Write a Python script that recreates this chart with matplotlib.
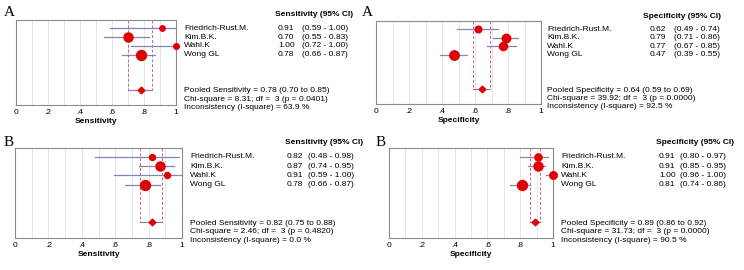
import matplotlib.pyplot as plt
from matplotlib import transforms

plt.rcParams['font.family'] = ['Liberation Sans', 'DejaVu Sans']

studies = ["Friedrich-Rust.M.", "Kim.B.K.", "Wahl.K", "Wong GL"]

# panel A, sensitivity
sens_a = [0.91, 0.70, 1.00, 0.78]
sens_a_lo = [0.59, 0.55, 0.72, 0.66]
sens_a_hi = [1.00, 0.83, 1.00, 0.87]
sens_a_w = [10, 30, 11, 35]
sens_a_pool = [0.78, 0.70, 0.85]
sens_a_stats = ["8.31", "0.0401", "63.9"]

# panel A, specificity
spec_a = [0.62, 0.79, 0.77, 0.47]
spec_a_lo = [0.49, 0.71, 0.67, 0.39]
spec_a_hi = [0.74, 0.86, 0.85, 0.55]
spec_a_w = [17, 27, 25, 32]
spec_a_pool = [0.64, 0.59, 0.69]
spec_a_stats = ["39.92", "0.0000", "92.5"]

# panel B, sensitivity
sens_b = [0.82, 0.87, 0.91, 0.78]
sens_b_lo = [0.48, 0.74, 0.59, 0.66]
sens_b_hi = [0.98, 0.95, 1.00, 0.87]
sens_b_w = [13, 30, 13, 35]
sens_b_pool = [0.82, 0.75, 0.88]
sens_b_stats = ["2.46", "0.4820", "0.0"]

# panel B, specificity
spec_b = [0.91, 0.91, 1.00, 0.81]
spec_b_lo = [0.80, 0.85, 0.96, 0.74]
spec_b_hi = [0.97, 0.95, 1.00, 0.86]
spec_b_w = [20, 30, 22, 35]
spec_b_pool = [0.89, 0.86, 0.92]
spec_b_stats = ["31.73", "0.0000", "90.5"]

tick_vals = [0, 0.2, 0.4, 0.6, 0.8, 1.0]
tick_labels = ["0", ".2", ".4", ".6", ".8", "1"]

W, H = 744, 270
FS = 6.0
RED = '#e00000'
CI_COL = '#8585b5'


def forest(fig, rect, est, lo, hi, w, pool, stats, measure, letter, letter_xy, xs):
    # rect and xs in pixels: (left, top, right, bottom); xs = name, value, ci, header
    l, t, r, b = rect
    ax = fig.add_axes([l / W, 1 - b / H, (r - l) / W, (b - t) / H])
    rows = list(range(1, len(est) + 1))
    pool_y = 8
    ax.set_xlim(0, 1)
    ax.set_ylim(9.75, 0.05)
    for g in [0.1, 0.2, 0.3, 0.4, 0.5, 0.6, 0.7, 0.8, 0.9]:
        ax.axvline(g, color='#e2e2e2', lw=0.6, zorder=0)
    # pooled CI box
    ax.plot([pool[1], pool[1]], [0.05, pool_y], ls=(0, (3, 2)), color='#d0608a', lw=0.7)
    ax.plot([pool[2], pool[2]], [0.05, pool_y], ls=(0, (3, 2)), color='#d0608a', lw=0.7)
    ax.plot([pool[1], pool[2]], [pool_y, pool_y], color='#a070a8', lw=0.8)
    for y, e, a, c, ww in zip(rows, est, lo, hi, w):
        ax.plot([a, c], [y, y], color=CI_COL, lw=0.9, clip_on=False)
        ax.plot(e, y, 'o', color=RED, ms=2.6 + 0.13 * ww, mec=RED, clip_on=False, zorder=5)
    ax.plot(pool[0], pool_y, 'D', color=RED, ms=3.4, clip_on=False, zorder=5)
    ax.set_xticks(tick_vals)
    ax.set_xticklabels(tick_labels)
    ax.set_yticks([])
    ax.tick_params(axis='x', length=0, pad=3, labelsize=FS)
    ax.set_xlabel(measure, fontsize=FS, fontweight='bold', labelpad=1)
    for s in ax.spines.values():
        s.set_color('#8c8c8c')
        s.set_linewidth(0.8)

    tr = transforms.blended_transform_factory(fig.transFigure, ax.transData)
    for y, name, e, a, c in zip(rows, studies, est, lo, hi):
        ax.text(xs[0] / W, y, name, transform=tr, fontsize=FS, va='center')
        ax.text(xs[1] / W, y, "%.2f" % e, transform=tr, fontsize=FS, va='center')
        ax.text(xs[2] / W, y, "(%.2f - %.2f)" % (a, c), transform=tr, fontsize=FS, va='center')
    pooled_lines = [
        "Pooled %s = %.2f (%.2f to %.2f)" % (measure, pool[0], pool[1], pool[2]),
        "Chi-square = %s; df =  3 (p = %s)" % (stats[0], stats[1]),
        "Inconsistency (I-square) = %s %%" % stats[2],
    ]
    for k, txt in enumerate(pooled_lines):
        ax.text(xs[0] / W, 8.15 + 0.92 * k, txt, transform=tr, fontsize=FS, va='center')
    fig.text(xs[3] / W, 1 - (t - 5) / H, "%s (95%% CI)" % measure, fontsize=FS,
             fontweight='bold', va='center')
    fig.text(letter_xy[0] / W, 1 - letter_xy[1] / H, letter, fontsize=11,
             family='Liberation Serif', va='center')
    return ax


fig = plt.figure(figsize=(W / 100, H / 100), dpi=100)

forest(fig, (16, 20, 176, 105), sens_a, sens_a_lo, sens_a_hi, sens_a_w, sens_a_pool,
       sens_a_stats, "Sensitivity", "A", (4, 13), (184, 278, 302, 275))
forest(fig, (376, 21, 541, 104), spec_a, spec_a_lo, spec_a_hi, spec_a_w, spec_a_pool,
       spec_a_stats, "Specificity", "A", (362, 13), (547, 650, 674, 643))
forest(fig, (15, 148, 182, 238), sens_b, sens_b_lo, sens_b_hi, sens_b_w, sens_b_pool,
       sens_b_stats, "Sensitivity", "B", (4, 142), (190, 287, 308, 285))
forest(fig, (389, 148, 553, 238), spec_b, spec_b_lo, spec_b_hi, spec_b_w, spec_b_pool,
       spec_b_stats, "Specificity", "B", (376, 142), (561, 659, 680, 656))

fig.savefig("out.png", dpi=100)
